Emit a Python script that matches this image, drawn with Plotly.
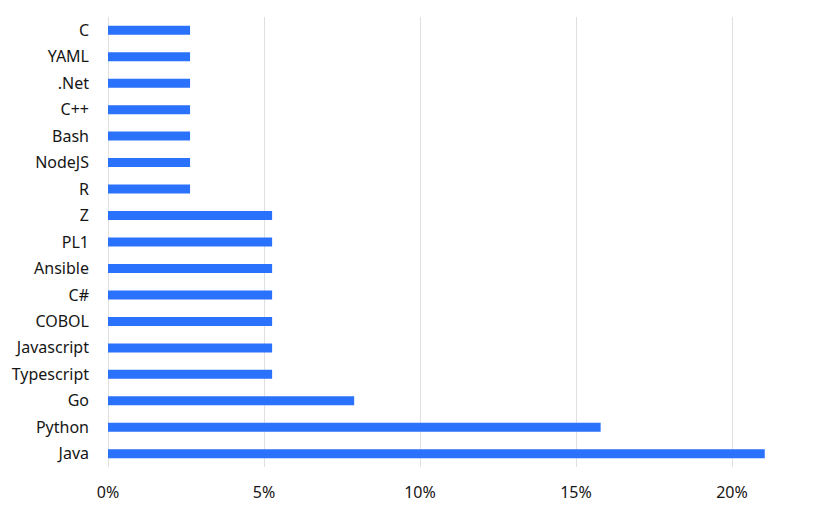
import plotly.graph_objects as go

# languages, bottom to top
languages = ["Java", "Python", "Go", "Typescript", "Javascript", "COBOL", "C#",
             "Ansible", "PL1", "Z", "R", "NodeJS", "Bash", "C++", ".Net", "YAML", "C"]
# share of repositories, percent
share = [21.05, 15.79, 7.89, 5.26, 5.26, 5.26, 5.26,
         5.26, 5.26, 5.26, 2.63, 2.63, 2.63, 2.63, 2.63, 2.63, 2.63]
x_ticks = [0, 5, 10, 15, 20]

fig = go.Figure(go.Bar(
    x=share,
    y=languages,
    orientation="h",
    width=0.34,
    marker=dict(color="#2a71fb", line=dict(width=0)),
    hovertemplate="%{y}: %{x:.2f}%<extra></extra>",
))

# page body adds 8px, so the figure is a bit smaller than the window
fig.update_layout(
    width=822, height=508,
    margin=dict(l=100, r=20, t=9, b=49),
    plot_bgcolor="white", paper_bgcolor="white",
    font=dict(family="Noto Sans, Roboto, sans-serif", size=16, color="#161616"),
    showlegend=False,
    xaxis=dict(
        range=[0, 22.5],
        tickvals=x_ticks,
        ticktext=[f"{v}%" for v in x_ticks],
        showgrid=True, gridcolor="#e0e0e0", gridwidth=1,
        zeroline=True, zerolinecolor="#e0e0e0", zerolinewidth=1,
        showline=False, ticks="",
        ticklabelstandoff=14,
        automargin=False,
    ),
    yaxis=dict(
        categoryorder="array", categoryarray=languages,
        range=[-0.5, len(languages) - 0.5],
        showgrid=False, zeroline=False, showline=False, ticks="",
        ticklabelstandoff=18,
        automargin=False,
    ),
)

fig.write_html("out.html")
